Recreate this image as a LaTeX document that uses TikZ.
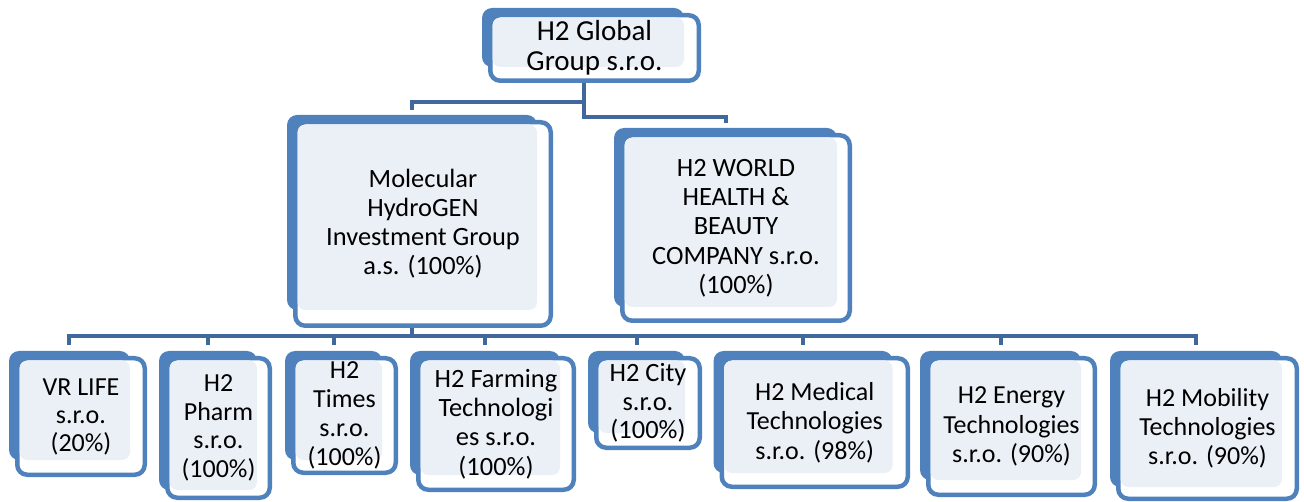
\documentclass[tikz,border=0pt]{standalone}
\usepackage{fontspec}
\setmainfont{Carlito}
\definecolor{boxblue}{HTML}{4F81BD}
\definecolor{lightfill}{HTML}{EBF0F7}
\definecolor{linecol}{HTML}{41689C}
\tikzset{
  backbox/.style={fill=boxblue, rounded corners=10pt, inner sep=0pt, draw=none},
  framebox/.style={draw=boxblue, line width=4.5pt, fill=white, rounded corners=10pt},
  lightbox/.style={fill=lightfill, rounded corners=8pt},
  txt/.style={align=center, inner sep=0pt, text=black},
  conn/.style={draw=linecol, line width=4pt},
}
\newcommand\fs[2]{\fontsize{#1}{#2}\selectfont}
% name, bx1, by1, bx2, by2, fx2, fy2, font, text
\newcommand\orgbox[9]{%
  \node[backbox, minimum width={(#4-#2)*1pt}, minimum height={(#5-#3)*1pt}] (#1-b) at ({(#2+#4)/2},{(#3+#5)/2}) {};
  \draw[framebox] ({#2+6+2.25},{#3+5+2.25}) rectangle ({#6-2.25},{#7-2.25});
  \fill[lightbox] ({#2+6+4.5},{#3+5+4.5}) rectangle (#4,#5);
  \node[txt, font=#8] (#1) at ({(#2+6+#6)/2},{(#3+5+#7)/2}) {#9};
}
\begin{document}
\begin{tikzpicture}[x=1pt,y=-1pt]
\useasboundingbox (0,0) rectangle (1304,502);
% connector end points on the back rectangles
\coordinate (top-s) at (584,67);
\coordinate (mol-n) at (412,115);
\coordinate (world-n) at (726,128);
\coordinate (mol-s) at (412,310);
\coordinate (vr-n) at (69,351);
\coordinate (pharm-n) at (208,351);
\coordinate (times-n) at (333.5,351);
\coordinate (farm-n) at (485,351);
\coordinate (city-n) at (636.5,351);
\coordinate (med-n) at (803,351);
\coordinate (energy-n) at (1000.5,351);
\coordinate (mob-n) at (1196,351);
% connectors
\draw[conn, shorten >=5pt] (top-s) -- (top-s |- 0,102) -| (mol-n);
\draw[conn, shorten >=5pt] (top-s) -- (top-s |- 0,117) -| (world-n);
\foreach \c in {vr,pharm,times,farm,city,med,energy,mob}{
  \draw[conn, shorten >=6pt] (mol-s) -- (mol-s |- 0,336) -| (\c-n);
}
% boxes
\orgbox{top}{482}{8}{684}{67}{701}{83}{\fs{29}{30}}{H2 Global\\Group s.r.o.}
\orgbox{mol}{287}{115}{537}{310}{553}{328}{\fs{26.4}{29}}{Molecular\\HydroGEN\\Investment Group\\a.s. (100\%)}
\orgbox{world}{614}{128}{837}{307}{852}{323}{\fs{26.4}{29.3}}{H2 WORLD\\HEALTH \&\\BEAUTY\\COMPANY s.r.o.\\(100\%)}
\orgbox{vr}{9}{351}{130}{460}{147}{477}{\fs{26}{28}}{VR LIFE\\s.r.o.\\(20\%)}
\orgbox{pharm}{159}{351}{257}{490}{272}{500}{\fs{26}{28.5}}{H2\\Pharm\\s.r.o.\\(100\%)}
\orgbox{times}{285}{351}{382}{460}{398}{475}{\fs{26}{29}}{H2\\Times\\s.r.o.\\(100\%)}
\orgbox{farm}{410}{351}{560}{475}{576}{492}{\fs{26.4}{29.3}}{H2 Farming\\Technologi\\es s.r.o.\\(100\%)}
\orgbox{city}{588}{351}{685}{433}{702}{450}{\fs{26.4}{28.5}}{H2 City\\s.r.o.\\(100\%)}
\orgbox{med}{713.5}{351}{892.5}{473}{910}{489}{\fs{26}{29.5}}{H2 Medical\\Technologies\\s.r.o. (98\%)}
\orgbox{energy}{920}{351}{1081}{480}{1097}{497}{\fs{26}{29.5}}{H2 Energy\\Technologies\\s.r.o. (90\%)}
\orgbox{mob}{1110}{351}{1282}{487}{1299}{501}{\fs{26}{29}}{H2 Mobility\\Technologies\\s.r.o. (90\%)}
\end{tikzpicture}
\end{document}
